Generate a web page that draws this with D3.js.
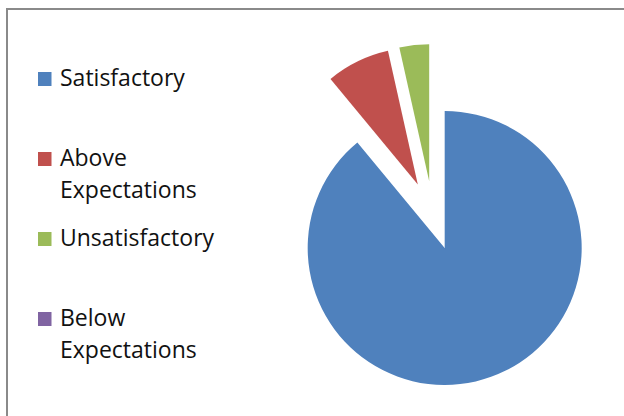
<!DOCTYPE html>
<html>
<head>
<meta charset="utf-8">
<script src="https://cdn.jsdelivr.net/npm/d3@7"></script>
<style>
  html, body { margin: 0; padding: 0; background: #fff; }
  svg { display: block; }
</style>
</head>
<body>
<svg id="chart" width="624" height="416"></svg>
<script>
// Rating categories and their shares (percent)
const categories = ["Satisfactory", "Above Expectations", "Unsatisfactory", "Below Expectations"];
const values = [89, 7.5, 3.5, 0];
const colors = ["#4F81BD", "#C0504D", "#9BBB59", "#8064A2"];
// Legend text, split into display lines
const legendLines = [["Satisfactory"], ["Above", "Expectations"], ["Unsatisfactory"], ["Below", "Expectations"]];

const svg = d3.select("#chart");

// Chart area frame
svg.append("rect")
  .attr("x", 7).attr("y", 9)
  .attr("width", 700).attr("height", 500)
  .attr("fill", "#fff")
  .attr("stroke", "#8a8a8a")
  .attr("stroke-width", 2);

// Pie, every slice pulled out from the centre along its bisector
const cx = 433, cy = 215.5, radius = 137, explode = 34.5;
const pie = d3.pie().sort(null).value(d => d.value);
const arc = d3.arc().innerRadius(0).outerRadius(radius);
const data = categories.map((c, i) => ({ name: c, value: values[i], color: colors[i] }));

svg.append("g")
  .attr("transform", `translate(${cx},${cy})`)
  .selectAll("path")
  .data(pie(data).filter(d => d.value > 0))
  .join("path")
  .attr("d", arc)
  .attr("fill", d => d.data.color)
  .attr("transform", d => {
    const mid = (d.startAngle + d.endAngle) / 2;
    return `translate(${explode * Math.sin(mid)},${-explode * Math.cos(mid)})`;
  });

// Legend
const legend = svg.append("g").attr("font-family", "'Open Sans', sans-serif")
  .attr("font-size", 23).attr("fill", "#111");
const rowY = d3.scalePoint().domain(categories).range([86, 326]);
categories.forEach((c, i) => {
  const y = rowY(c);
  legend.append("rect")
    .attr("x", 38).attr("y", y - 14)
    .attr("width", 13.5).attr("height", 14)
    .attr("fill", colors[i]);
  const t = legend.append("text").attr("x", 60).attr("y", y);
  legendLines[i].forEach((line, j) => {
    t.append("tspan").attr("x", 60).attr("y", y + j * 31.5).text(line);
  });
});
</script>
</body>
</html>
